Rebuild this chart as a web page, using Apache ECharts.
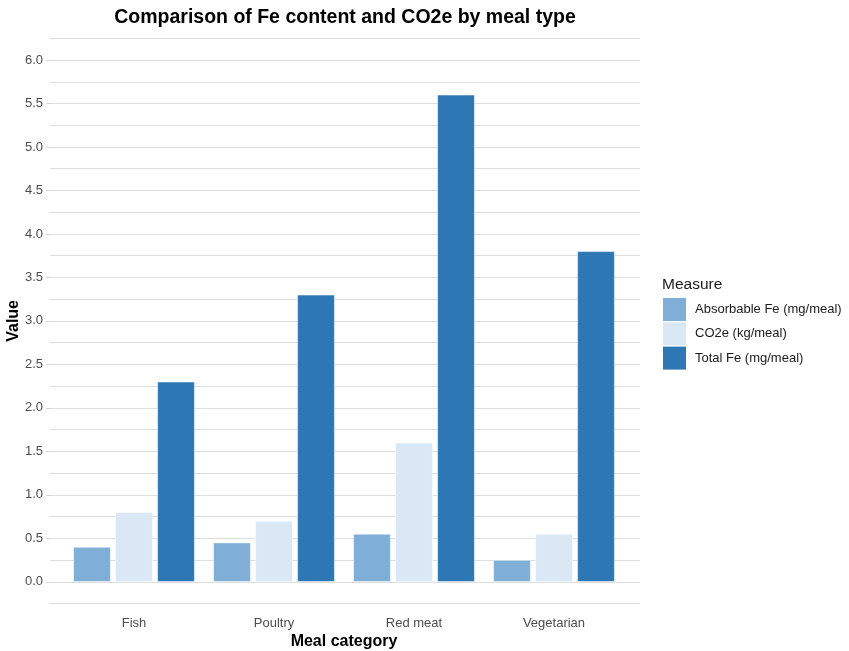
<!DOCTYPE html>
<html>
<head>
<meta charset="utf-8">
<script src="https://cdn.jsdelivr.net/npm/echarts@6/dist/echarts.min.js"></script>
<style>html,body{margin:0;padding:0;background:#fff}#c{width:849px;height:651px}</style>
</head>
<body>
<div id="c"></div>
<script>
const categories = ['Fish', 'Poultry', 'Red meat', 'Vegetarian'];
const seriesNames = ['Absorbable Fe (mg/meal)', 'CO2e (kg/meal)', 'Total Fe (mg/meal)'];
const absorbableFe = [0.40, 0.45, 0.55, 0.25];
const co2e = [0.80, 0.70, 1.60, 0.55];
const totalFe = [2.30, 3.30, 5.60, 3.80];
const yTicks = [0, 0.5, 1.0, 1.5, 2.0, 2.5, 3.0, 3.5, 4.0, 4.5, 5.0, 5.5, 6.0];

const colors = ['#7FAED6', '#DAE8F6', '#2C77B4'];
const values = [absorbableFe, co2e, totalFe];
const FONT = 'Liberation Sans, Arial, sans-serif';

const chart = echarts.init(document.getElementById('c'));
const gridTop = 38.3, gridBottom = 47.5;
chart.setOption({
  animation: false,
  backgroundColor: '#fff',
  title: [
    { text: 'Comparison of Fe content and CO2e by meal type', left: 345, top: 8, textAlign: 'center', padding: 0,
      textStyle: { fontFamily: FONT, fontSize: 19.5, fontWeight: 'bold', color: '#000' } },
    { text: 'Measure', left: 662, top: 277, padding: 0,
      textStyle: { fontFamily: FONT, fontSize: 15.5, fontWeight: 'normal', color: '#1a1a1a' } }
  ],
  legend: {
    orient: 'vertical', left: 663, top: 298, padding: 0,
    itemWidth: 23, itemHeight: 23, itemGap: 1.3,
    icon: 'rect',
    itemStyle: { borderWidth: 0 },
    textStyle: { fontFamily: FONT, fontSize: 13, color: '#1a1a1a', padding: [0, 0, 0, 4] },
    data: seriesNames
  },
  grid: [
    { left: 50, right: 209, top: gridTop, bottom: gridBottom, outerBoundsMode: 'none', containLabel: false },
    { left: 64, right: 225, top: gridTop, bottom: gridBottom, outerBoundsMode: 'none', containLabel: false }
  ],
  xAxis: [
    { type: 'value', gridIndex: 0, show: false, min: 0, max: 1 },
    { type: 'category', gridIndex: 1, data: categories,
      axisLine: { show: false }, axisTick: { show: false },
      axisLabel: { fontFamily: FONT, fontSize: 13, color: '#4d4d4d', margin: 13 },
      name: 'Meal category', nameLocation: 'middle', nameGap: 30, nameMoveOverlap: false,
      nameTextStyle: { fontFamily: FONT, fontSize: 16, fontWeight: 'bold', color: '#000' } }
  ],
  yAxis: [
    { type: 'value', gridIndex: 0, min: -0.25, max: 6.25, interval: 0.25,
      axisLine: { show: false }, axisTick: { show: false }, axisLabel: { show: false },
      splitLine: { show: true, lineStyle: { color: '#dedede', width: 1 } } },
    { type: 'value', gridIndex: 0, position: 'left', offset: 0, min: -0.25, max: 6.25, interval: 0.25,
      axisLine: { show: false },
      axisTick: { show: true, length: 4, customValues: yTicks, lineStyle: { color: '#d6d6d6', width: 1 } },
      axisLabel: { customValues: yTicks, formatter: v => v.toFixed(1), fontFamily: FONT, fontSize: 13, color: '#4d4d4d', margin: 7 },
      splitLine: { show: false },
      name: 'Value', nameLocation: 'middle', nameGap: 28, nameRotate: 90, nameMoveOverlap: false,
      nameTextStyle: { fontFamily: FONT, fontSize: 16, fontWeight: 'bold', color: '#000' } },
    { type: 'value', gridIndex: 1, min: -0.25, max: 6.25, interval: 0.25, show: false,
      splitLine: { show: false } }
  ],
  series: seriesNames.map((name, i) => ({
    name: name, type: 'bar', xAxisIndex: 1, yAxisIndex: 2,
    data: values[i], barWidth: 37.3, barGap: '12.6%',
    itemStyle: { color: colors[i], borderColor: '#ffffff', borderWidth: 0.5 }
  }))
});
</script>
</body>
</html>
